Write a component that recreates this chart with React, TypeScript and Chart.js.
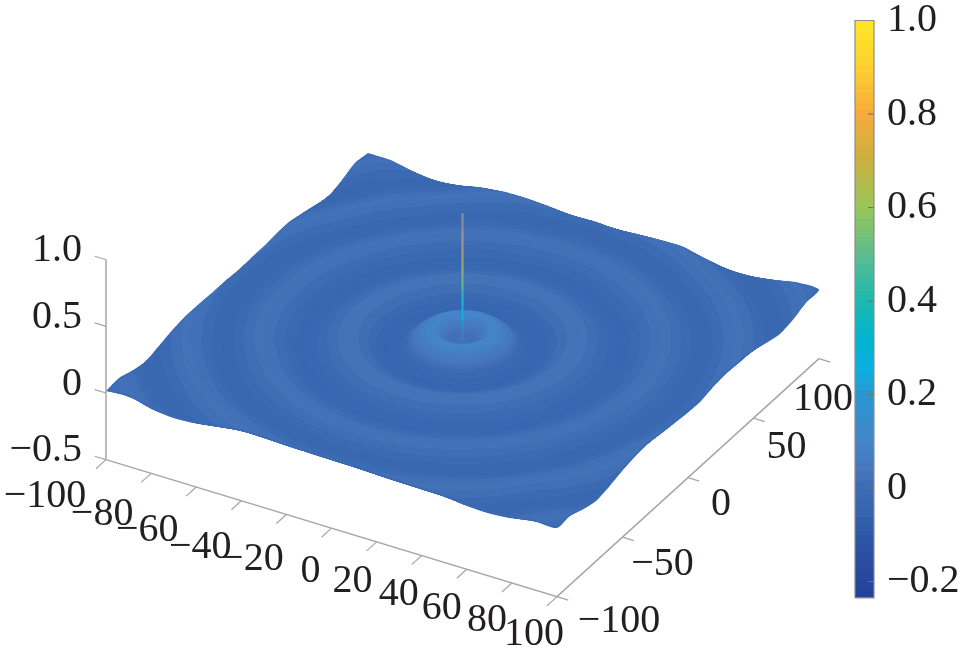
import React, { useEffect, useRef } from "react";
import { Chart, registerables } from "chart.js";

Chart.register(...registerables);

// ---------- data ----------
const xTicks = [-100, -80, -60, -40, -20, 0, 20, 40, 60, 80, 100];
const yTicks = [-100, -50, 0, 50, 100];
const zTicks = [-0.5, 0, 0.5, 1.0];
const colorbarTicks = [-0.2, 0, 0.2, 0.4, 0.6, 0.8, 1.0];
const colorMin = -0.235;
const colorMax = 1.0;

// heights along the four rims of the surface, every 10 units from -100 to 100
const frontEdge = [0.015, 0.028, -0.017, -0.034, -0.024, 0.002, 0.026, 0.022, 0.016, 0.013, 0.01, 0.008, 0.002, -0.002, -0.005, -0.007, -0.025, -0.03, -0.015, 0.015, 0.015];
const backEdge = [0.015, 0.013, -0.021, -0.041, -0.024, 0.014, 0.034, 0.037, 0.028, 0.013, 0.018, 0.01, 0.021, 0.03, 0.03, -0.01, -0.04, -0.038, -0.013, 0.022, 0.018];
const leftEdge = [0.015, 0.024, -0.012, -0.033, -0.009, 0.019, 0.035, 0.035, 0.03, 0.03, 0.022, 0.024, 0.025, 0.034, 0.036, 0.012, -0.017, -0.039, -0.01, 0.03, 0.015];
const rightEdge = [0.015, 0.017, -0.023, -0.048, -0.03, 0, 0.02, 0.026, 0.012, 0, -0.011, -0.014, 0.01, 0.02, 0.013, 0.005, -0.024, -0.049, -0.032, 0.007, 0.018];

// ripple profile: distance from the centre and height there
const ringRadius = [0, 3, 5, 6, 7, 8, 9, 10, 11, 12, 13, 14, 15, 16, 17, 18, 19, 20, 21, 22, 24, 27, 30, 33, 36, 40, 44, 48, 52, 56, 60, 64, 68, 72, 76, 80, 84, 88, 92, 96, 100, 104, 108, 112, 116, 120, 124, 128, 132, 136, 140, 144];
const ringHeight = [0.022, 0.022, 0.025, 0.03, 0.04, 0.055, 0.075, 0.09, 0.098, 0.1, 0.1, 0.094, 0.085, 0.075, 0.063, 0.05, 0.035, 0.022, 0.008, -0.005, -0.03, -0.045, -0.04, -0.025, -0.005, 0.025, 0.035, 0.02, 0, -0.02, -0.035, -0.025, -0.005, 0.015, 0.03, 0.02, 0.003, -0.015, -0.03, -0.02, 0.012, 0.026, 0.024, 0.008, -0.02, -0.028, -0.018, 0.005, 0.022, 0.02, 0.005, -0.015];

// central spike
const spikeHeight = [0.02, 0.1, 0.17, 0.28, 0.39, 0.5, 0.6, 0.72, 0.84, 0.97];
const spikeColor = ["#3f7fc0", "#1a9cd6", "#10aedb", "#20b4c8", "#5ab88c", "#8ab070", "#a89870", "#a09488", "#8a8c9c", "#6080b8"];

// colour scale
const colorValues = [-0.235, -0.1, -0.05, 0, 0.04, 0.1, 0.2, 0.26, 0.32, 0.4, 0.5, 0.6, 0.7, 0.8, 0.9, 1.0];
const colorHex = ["#24409a", "#2e56a6", "#3565af", "#3c6bb3", "#4776bb", "#4585c8", "#2a96d0", "#0cb0e0", "#00b4d0", "#1cb9b0", "#5cbc90", "#98c658", "#c8b040", "#f8aa3c", "#fcd030", "#fde725"];

// ---------- layout of the drawing ----------
const W = 966;
const H = 662;
const PLOT_W = 876;
const BAR_L = 855;
const BAR_R = 874;
const PX_PER_UNIT = 467.5;
const ZERO_PX = 488;
const INK = "#231f20";
const FONT = '40px "Liberation Serif"';
const axisColor = "#a6a6a6";

const xNudge: [number, number][] = [[-61, 37], [-49, 41], [-49, 43], [-41, 47], [-34, 45], [-21, 43], [-24, 40], [-23, 39], [-25, 39], [-25, 38], [-23, 38]];
const yNudge: [number, number][] = [[62, 25], [40, 27], [33, 27], [33, 29], [4, 41]];

function project(x: number, y: number, z: number) {
  return {
    x: 106 + 2.255 * (x + 100) + 1.31 * (y + 100),
    y: 393 + 0.685 * (x + 100) - 1.19 * (y + 100) - 133.3 * z,
  };
}

function hexRgb(h: string) {
  return [parseInt(h.slice(1, 3), 16), parseInt(h.slice(3, 5), 16), parseInt(h.slice(5, 7), 16)];
}

function colorOf(v: number) {
  const c = Math.max(colorValues[0], Math.min(colorValues[colorValues.length - 1], v));
  let i = 0;
  while (i < colorValues.length - 2 && c > colorValues[i + 1]) i++;
  const t = (c - colorValues[i]) / (colorValues[i + 1] - colorValues[i]);
  const a = hexRgb(colorHex[i]);
  const b = hexRgb(colorHex[i + 1]);
  const m = a.map((p, k) => Math.round(p + (b[k] - p) * t));
  return `rgb(${m[0]},${m[1]},${m[2]})`;
}

function lookup(list: number[], s: number) {
  const f = (s + 100) / 10;
  const i = Math.max(0, Math.min(list.length - 2, Math.floor(f)));
  return list[i] + (list[i + 1] - list[i]) * (f - i);
}

function radial(r: number) {
  const n = ringRadius.length;
  if (r >= ringRadius[n - 1]) return ringHeight[n - 1];
  let i = 0;
  while (r > ringRadius[i + 1]) i++;
  return ringHeight[i] + ((ringHeight[i + 1] - ringHeight[i]) * (r - ringRadius[i])) / (ringRadius[i + 1] - ringRadius[i]);
}

function surfacePoint(r: number, angle: number) {
  const lim = 99.5;
  const x = Math.max(-lim, Math.min(lim, r * Math.cos(angle)));
  const y = Math.max(-lim, Math.min(lim, r * Math.sin(angle)));
  const edge = Math.abs(x) > Math.abs(y) ? lookup(x > 0 ? rightEdge : leftEdge, y) : lookup(y > 0 ? backEdge : frontEdge, x);
  const w = Math.pow(Math.max(Math.abs(x), Math.abs(y)) / 100, 6);
  return project(x, y, (1 - w) * radial(r) + w * edge);
}

function shape(points: { x: number; y: number }[], color: string, extra: any = {}) {
  return {
    data: points,
    pointRadius: 0,
    borderWidth: 0,
    borderColor: color,
    backgroundColor: color,
    fill: "shape",
    clip: false,
    ...extra,
  };
}

function stroke(points: { x: number; y: number }[], color: string, width: number, extra: any = {}) {
  return { data: points, pointRadius: 0, borderWidth: width, borderColor: color, fill: false, clip: false, ...extra };
}

function buildDatasets() {
  const paint: any[] = [];

  // axes
  const A = (pts: number[][]) => pts.map((p) => project(p[0], p[1], p[2]));
  paint.push(stroke(A([[-100, -100, -0.5], [100, -100, -0.5], [100, 100, -0.5]]), axisColor, 1.5));
  paint.push(stroke(A([[-100, -100, -0.5], [-100, -100, 1.0]]), axisColor, 1.5));
  xTicks.forEach((t) => paint.push(stroke(A([[t, -100, -0.5], [t, -107.6, -0.5]]), axisColor, 1.2)));
  yTicks.forEach((t) => paint.push(stroke(A([[100, t, -0.5], [105, t, -0.5]]), axisColor, 1.2)));
  zTicks.forEach((t) => paint.push(stroke(A([[-100, -100, t], [-105, -100, t]]), axisColor, 1.2)));

  // rim of the surface
  const steps = frontEdge.map((_, i) => -100 + i * 10);
  const rim = [
    ...steps.map((s, i) => project(s, -100, frontEdge[i])),
    ...steps.slice(1).map((s, i) => project(100, s, rightEdge[i + 1])),
    ...steps.slice(0, -1).reverse().map((s) => project(s, 100, backEdge[(s + 100) / 10])),
    ...steps.slice(1).reverse().map((s) => project(-100, s, leftEdge[(s + 100) / 10])),
  ];
  rim.push(rim[0]);
  paint.push(shape(rim, colorOf(0), { tension: 0.25 }));

  // ripple strips: far half from outside in, near half from inside out
  const front = Math.atan2(-1.721, 1);
  const half = Math.PI / 2;
  const strip = (i: number, a0: number) => {
    const count = 60;
    const outer: any[] = [];
    const inner: any[] = [];
    for (let k = 0; k <= count; k++) {
      const a = a0 + (k / count) * Math.PI;
      outer.push(surfacePoint(ringRadius[i + 1], a));
      inner.push(surfacePoint(ringRadius[i], a));
    }
    const pts = [...outer, ...inner.reverse(), outer[0]];
    const c = colorOf((ringHeight[i] + ringHeight[i + 1]) / 2);
    return shape(pts, c, { borderWidth: 0.7 });
  };
  for (let i = ringRadius.length - 2; i >= 0; i--) paint.push(strip(i, front + half));
  for (let i = 0; i < ringRadius.length - 1; i++) paint.push(strip(i, front - half));

  // spike
  const spikePts = spikeHeight.map((z) => project(0, 0, z));
  paint.push(
    stroke(spikePts, spikeColor[0], 2.2, {
      segment: { borderColor: (c: any) => spikeColor[c.p0DataIndex] },
    })
  );

  // colour bar
  const bands = 64;
  for (let b = 0; b < bands; b++) {
    const lo = colorMin + ((colorMax - colorMin) * b) / bands;
    const hi = colorMin + ((colorMax - colorMin) * (b + 1.15)) / bands;
    const top = Math.min(hi, colorMax);
    paint.push(
      shape(
        [{ x: BAR_L, y: lo }, { x: BAR_R, y: lo }, { x: BAR_R, y: top }, { x: BAR_L, y: top }, { x: BAR_L, y: lo }],
        colorOf((lo + top) / 2),
        { yAxisID: "y2" }
      )
    );
  }
  colorbarTicks.slice(0, -1).forEach((t) =>
    paint.push(stroke([{ x: BAR_R - 6, y: t }, { x: BAR_R, y: t }], "#6e6e6e", 1, { yAxisID: "y2" }))
  );
  paint.push(
    stroke(
      [{ x: BAR_L, y: colorMin }, { x: BAR_R, y: colorMin }, { x: BAR_R, y: colorMax }, { x: BAR_L, y: colorMax }, { x: BAR_L, y: colorMin }],
      "#8c8c8c",
      1.2,
      { yAxisID: "y2" }
    )
  );

  return paint.reverse();
}

const minus = (s: string) => s.replace("-", "\u2212");

const axisText = {
  id: "axisText",
  afterDatasetsDraw(chart: any) {
    const { ctx, scales } = chart;
    ctx.save();
    ctx.font = FONT;
    ctx.fillStyle = INK;
    ctx.textAlign = "center";
    ctx.textBaseline = "middle";
    const put = (label: string, p: { x: number; y: number }, n: [number, number]) => {
      ctx.fillText(minus(label), scales.x.getPixelForValue(p.x) + n[0], scales.y.getPixelForValue(p.y) + n[1]);
    };
    xTicks.forEach((t, i) => put(String(t), project(t, -100, -0.5), xNudge[i]));
    yTicks.forEach((t, i) => put(String(t), project(100, t, -0.5), yNudge[i]));
    ctx.textAlign = "right";
    zTicks.forEach((t) => {
      const p = project(-100, -100, t);
      const label = t === 0 ? "0" : t.toFixed(1);
      ctx.fillText(minus(label), scales.x.getPixelForValue(p.x) - 24, scales.y.getPixelForValue(p.y) - 9);
    });
    ctx.restore();
  },
};

export default function App() {
  const ref = useRef<HTMLCanvasElement | null>(null);
  useEffect(() => {
    document.body.style.margin = "0";
    document.body.style.background = "#ffffff";
    const chart = new Chart(ref.current as HTMLCanvasElement, {
      type: "line",
      data: { datasets: buildDatasets() },
      plugins: [axisText],
      options: {
        animation: false,
        responsive: false,
        events: [],
        layout: { padding: 0, autoPadding: false },
        plugins: { legend: { display: false }, tooltip: { enabled: false }, title: { display: false } },
        scales: {
          x: { type: "linear", display: false, min: 0, max: PLOT_W },
          y: { type: "linear", display: false, min: 0, max: H, reverse: true },
          y2: {
            type: "linear",
            position: "right",
            min: -(H - ZERO_PX) / PX_PER_UNIT,
            max: ZERO_PX / PX_PER_UNIT,
            grid: { display: false, drawTicks: false },
            border: { display: false },
            afterFit: (s: any) => {
              s.width = W - PLOT_W;
              s.paddingTop = 0;
              s.paddingBottom = 0;
              s.paddingLeft = 0;
              s.paddingRight = 0;
            },
            afterBuildTicks: (s: any) => {
              s.ticks = colorbarTicks.map((v) => ({ value: v }));
            },
            ticks: {
              padding: 11,
              color: INK,
              autoSkip: false,
              maxRotation: 0,
              font: { family: "Liberation Serif", size: 40 },
              callback: (v: any) => minus(Math.abs(v) < 1e-9 ? "0" : Number(v).toFixed(1)),
            },
          },
        },
      } as any,
    } as any);
    return () => chart.destroy();
  }, []);
  return <canvas ref={ref} width={W} height={H} style={{ display: "block", width: W, height: H }} />;
}
